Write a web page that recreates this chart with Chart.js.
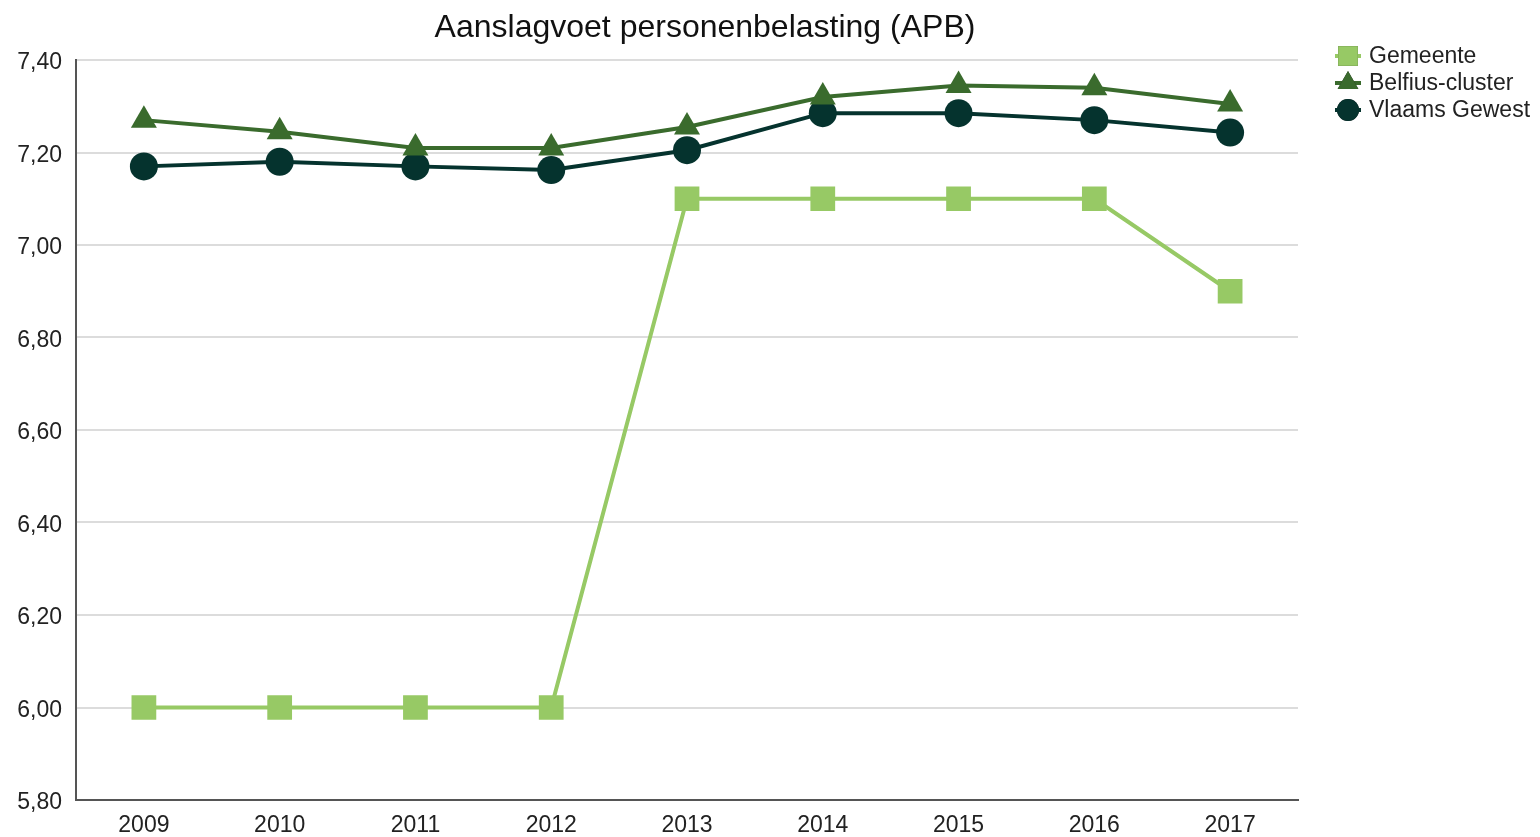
<!DOCTYPE html>
<html>
<head>
<meta charset="utf-8">
<script src="https://cdn.jsdelivr.net/npm/chart.js@4.4.1/dist/chart.umd.min.js"></script>
<style>
  html, body { margin: 0; padding: 0; background: #fff; }
  #wrap { width: 1540px; height: 837px; }
</style>
</head>
<body>
<div id="wrap"><canvas id="apbChart" width="1540" height="837"></canvas></div>
<script>
// Gegevens
const jaren = ['2009', '2010', '2011', '2012', '2013', '2014', '2015', '2016', '2017'];
const gemeente = [6.00, 6.00, 6.00, 6.00, 7.10, 7.10, 7.10, 7.10, 6.90];
const belfiusCluster = [7.27, 7.245, 7.21, 7.21, 7.255, 7.32, 7.345, 7.34, 7.305];
const vlaamsGewest = [7.17, 7.18, 7.17, 7.162, 7.205, 7.285, 7.285, 7.27, 7.243];
const titel = 'Aanslagvoet personenbelasting (APB)';

const FONT = '"Liberation Sans", Arial, sans-serif';

// Titel en legende met lijntje door het symbool
const extraPlugin = {
    id: 'extra',
    afterDraw(chart) {
        const ctx = chart.ctx;
        ctx.save();
        ctx.fillStyle = '#111';
        ctx.font = '32px ' + FONT;
        ctx.textAlign = 'center';
        ctx.textBaseline = 'middle';
        ctx.fillText(titel, 705, 28);

        ctx.font = '23px ' + FONT;
        ctx.textAlign = 'left';
        chart.data.datasets.forEach((ds, i) => {
            const y = 56 + i * 27;
            const x = 1348;
            ctx.strokeStyle = ds.borderColor;
            ctx.lineWidth = 4;
            ctx.beginPath();
            ctx.moveTo(x - 13, y);
            ctx.lineTo(x + 13, y);
            ctx.stroke();
            Chart.helpers.drawPoint(ctx, {
                pointStyle: ds.pointStyle,
                radius: ds.legendRadius,
                borderWidth: 0
            }, x, y);
            ctx.fillStyle = ds.borderColor;
            ctx.fill();
            ctx.fillStyle = '#222';
            ctx.fillText(ds.label, 1369, y + 1);
        });
        ctx.restore();
    }
};

const ctx = document.getElementById('apbChart').getContext('2d');
new Chart(ctx, {
    type: 'line',
    data: {
        labels: jaren,
        datasets: [
            {
                label: 'Gemeente',
                data: gemeente,
                borderColor: '#97c965',
                backgroundColor: '#97c965',
                borderWidth: 4,
                pointStyle: 'rect',
                pointRadius: 17.5,
                pointBorderWidth: 0,
                legendRadius: 14
            },
            {
                label: 'Belfius-cluster',
                data: belfiusCluster,
                borderColor: '#3a6b2d',
                backgroundColor: '#3a6b2d',
                borderWidth: 4,
                pointStyle: 'triangle',
                pointRadius: 15,
                pointBorderWidth: 0,
                legendRadius: 12
            },
            {
                label: 'Vlaams Gewest',
                data: vlaamsGewest,
                borderColor: '#05332e',
                backgroundColor: '#05332e',
                borderWidth: 4,
                pointStyle: 'circle',
                pointRadius: 14,
                pointBorderWidth: 0,
                legendRadius: 11
            }
        ]
    },
    options: {
        responsive: false,
        animation: false,
        layout: { padding: { top: 60, right: 242, bottom: 0, left: 0 } },
        plugins: {
            legend: { display: false },
            title: { display: false },
            tooltip: { enabled: false }
        },
        scales: {
            x: {
                offset: true,
                grid: { display: false, drawTicks: false },
                border: { color: '#555', width: 2 },
                ticks: { color: '#222', font: { family: FONT, size: 23 }, padding: 12 },
                afterFit: s => { s.height = 37; }
            },
            y: {
                min: 5.8,
                max: 7.4,
                grid: { color: '#dcdcdc', lineWidth: 2, drawTicks: false },
                border: { color: '#555', width: 2 },
                ticks: {
                    stepSize: 0.2,
                    color: '#222',
                    font: { family: FONT, size: 23 },
                    padding: 14,
                    labelOffset: 3,
                    callback: v => v.toFixed(2).replace('.', ',')
                },
                afterFit: s => { s.width = 76; }
            }
        }
    },
    plugins: [extraPlugin]
});
</script>
</body>
</html>
